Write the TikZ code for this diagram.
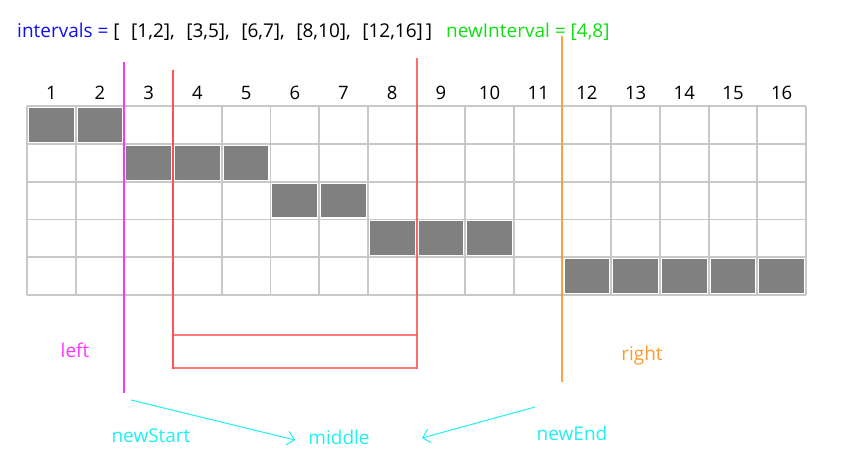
\documentclass[tikz,border=0pt]{standalone}
\usepackage{fontspec}
\setmainfont{Open Sans}
\usetikzlibrary{arrows.meta}
\definecolor{cblue}{HTML}{1010F0}
\definecolor{cgreen}{HTML}{10E010}
\definecolor{cmag}{HTML}{FF33FF}
\definecolor{cred}{HTML}{FF4A4A}
\definecolor{corange}{HTML}{FF9A30}
\definecolor{ccyan}{HTML}{20F0F0}
\definecolor{cgrid}{HTML}{C8C8C8}
\definecolor{cfill}{HTML}{808080}
\begin{document}
\begin{tikzpicture}[x=1pt,y=-1pt,
  lbl/.style={inner sep=0pt,font=\fontsize{19}{22}\selectfont},
  num/.style={inner sep=0pt,font=\fontsize{18.5}{22}\selectfont},
  gridline/.style={draw=cgrid,line width=1.8pt},
  cellfill/.style={fill=cfill},
  mark line/.style={line width=1.8pt},
  arr/.style={ccyan,line width=1pt,-{Straight Barb[length=7pt,width=14pt]}}]
\useasboundingbox (0,0) rectangle (861,467);
% top text
\node[lbl,anchor=base west] (intv) at (17,37) {\textcolor{cblue}{intervals =}\ [\hspace{11.5pt}[1,2],\hspace{11.5pt}[3,5],\hspace{11.5pt}[6,7],\hspace{11.5pt}[8,10],\hspace{11.5pt}[12,16]\hspace{3pt}]};
\node[lbl,anchor=base west,text=cgreen] (newint) at (446,37) {newInterval = [4,8]};
% grid
\def\gx{27}\def\gw{48.69}\def\gy{106}\def\gh{37.8}
\foreach \i in {1,...,16}{
  \node[num] (n\i) at ({\gx+(\i-0.5)*\gw},93) {\i};
}
% filled cells: row, from, to
\foreach \r/\a/\b in {1/1/2,2/3/5,3/6/7,4/8/10,5/12/16}{
  \foreach \c in {\a,...,\b}{
    \fill[cellfill] ({\gx+(\c-1)*\gw+2},{\gy+(\r-1)*\gh+2}) rectangle ({\gx+\c*\gw-2},{\gy+\r*\gh-2});
  }
}
\foreach \i in {0,...,16}{
  \draw[gridline] ({\gx+\i*\gw},\gy) -- ({\gx+\i*\gw},{\gy+5*\gh});
}
\foreach \j in {0,...,5}{
  \draw[gridline] (\gx,{\gy+\j*\gh}) -- ({\gx+16*\gw},{\gy+\j*\gh});
}
% marker lines
\draw[mark line,cmag] (124,62) -- (124,393);
\draw[mark line,cred,opacity=0.95] (173,70) -- (173,369);
\draw[mark line,cred,opacity=0.8] (417,58) -- (417,369);
\draw[mark line,cred,opacity=0.75] (173,335) -- (417,335);
\draw[mark line,cred,opacity=0.75] (173,368) -- (417,368);
\draw[mark line,corange,opacity=0.9] (562,36) -- (562,382);
% labels
\node[lbl,text=cmag] (left) at (75,350) {left};
\node[lbl,text=corange] (right) at (642,356) {right};
\node[lbl,text=ccyan] (newstart) at (151,436) {newStart};
\node[lbl,text=ccyan] (middle) at (339,437) {middle};
\node[lbl,text=ccyan] (newend) at (572,433) {newEnd};
\coordinate (s1) at (131,400);
\coordinate (e1) at (295,440);
\coordinate (s2) at (535,407);
\coordinate (e2) at (422,438);
\draw[arr] (s1) -- (e1);
\draw[arr] (s2) -- (e2);
\end{tikzpicture}
\end{document}
